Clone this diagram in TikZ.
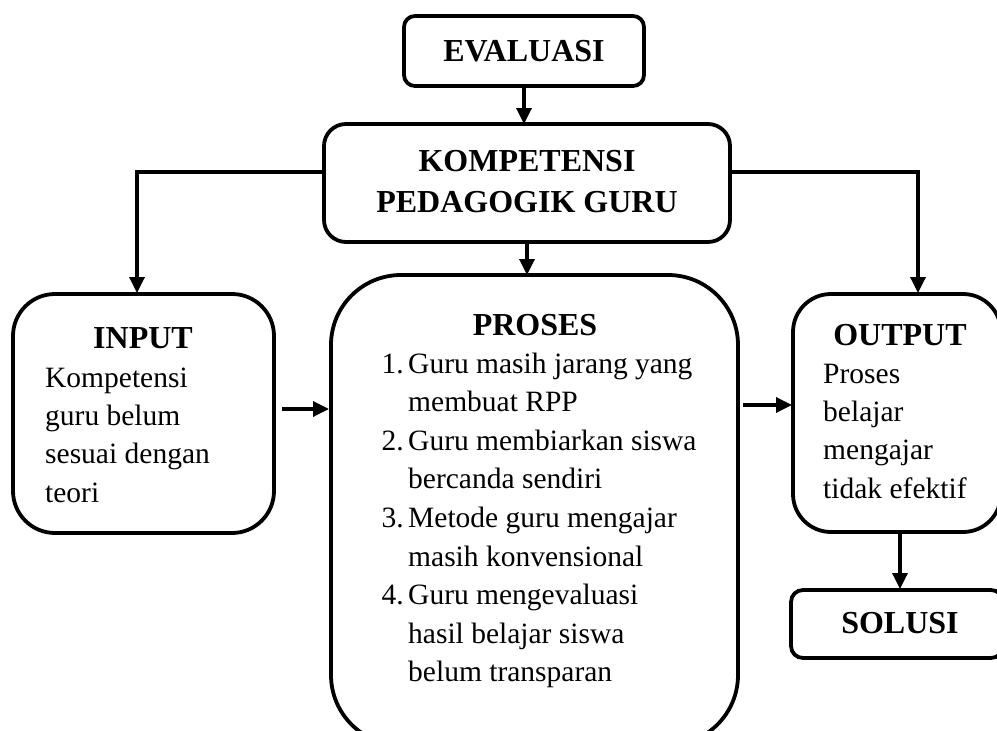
\documentclass[tikz,border=0pt]{standalone}
\usepackage{fontspec}
\setmainfont{Liberation Serif}
\usetikzlibrary{arrows.meta}
\tikzset{
  box/.style={draw, line width=3.8pt, inner sep=0pt, outer sep=0pt},
  arr/.style={line width=3.4pt, -{Triangle[length=16pt,width=15pt]}},
  ttl/.style={font=\fontsize{32}{38}\selectfont\bfseries, inner sep=0pt, anchor=base},
  txt/.style={font=\fontsize{29.5}{38}\selectfont, inner sep=0pt, anchor=base west},
}
\begin{document}
\begin{tikzpicture}[x=1pt,y=-1pt]
\useasboundingbox (0,0) rectangle (997,731);
\clip (0,0) rectangle (997,731);
% boxes
\node[box, rounded corners=11pt, minimum width=240pt, minimum height=70pt] (eval) at (524,51) {};
\node[box, rounded corners=22pt, minimum width=406pt, minimum height=118pt] (komp) at (527,183) {};
\node[box, rounded corners=42pt, minimum width=261pt, minimum height=239pt] (input) at (143.5,413.5) {};
\node[box, rounded corners=70pt, minimum width=407pt, minimum height=470pt] (proses) at (534.5,510) {};
\node[box, rounded corners=38pt, minimum width=208pt, minimum height=238pt] (output) at (897,413) {};
\node[box, rounded corners=12pt, minimum width=212pt, minimum height=68pt] (solusi) at (897,624) {};
% texts
\node[ttl] (tEval) at (524,61) {EVALUASI};
\node[ttl] (tKomp1) at (527,171) {KOMPETENSI};
\node[ttl] (tKomp2) at (527,212) {PEDAGOGIK GURU};
\node[ttl] (tIn) at (143,348) {INPUT};
\node[txt] (i1) at (45,387) {Kompetensi};
\node[txt] (i2) at (45,425.3) {guru belum};
\node[txt] (i3) at (45,463.6) {sesuai dengan};
\node[txt] (i4) at (45,502) {teori};
\node[ttl] (tPro) at (535,335) {PROSES};
\node[txt, anchor=base east] (n1) at (404,373) {1.};
\node[txt] (p1) at (408,373) {Guru masih jarang yang};
\node[txt] (p2) at (408,411.6) {membuat RPP};
\node[txt, anchor=base east] (n2) at (404,450.2) {2.};
\node[txt] (p3) at (408,450.2) {Guru membiarkan siswa};
\node[txt] (p4) at (408,488.8) {bercanda sendiri};
\node[txt, anchor=base east] (n3) at (404,527.4) {3.};
\node[txt] (p5) at (408,527.4) {Metode guru mengajar};
\node[txt] (p6) at (408,566) {masih konvensional};
\node[txt, anchor=base east] (n4) at (404,604.6) {4.};
\node[txt] (p7) at (408,604.6) {Guru mengevaluasi};
\node[txt] (p8) at (408,643.2) {hasil belajar siswa};
\node[txt] (p9) at (408,681.8) {belum transparan};
\node[ttl] (tOut) at (900,345) {OUTPUT};
\node[txt] (o1) at (823,383) {Proses};
\node[txt] (o2) at (823,421.3) {belajar};
\node[txt] (o3) at (823,459.6) {mengajar};
\node[txt] (o4) at (823,498) {tidak efektif};
\node[ttl] (tSol) at (900,633) {SOLUSI};
% connectors
\coordinate (kl) at (324,172);
\coordinate (inT) at (137,293);
\coordinate (kr) at (730,172);
\coordinate (outT) at (918,293);
\coordinate (ip1) at (282,409);
\coordinate (ip2) at (329,409);
\coordinate (po1) at (743,405);
\coordinate (po2) at (792,405);
\coordinate (os1) at (900,532);
\coordinate (os2) at (900,589);
\draw[arr] (eval.south) -- (eval.south |- komp.north);
\draw[arr] (kl) -| (inT);
\draw[arr] (kr) -| (outT);
\draw[arr] (komp.south) -- (komp.south |- proses.north);
\draw[arr] (ip1) -- (ip2);
\draw[arr] (po1) -- (po2);
\draw[arr] (os1) -- (os2);
\end{tikzpicture}
\end{document}
